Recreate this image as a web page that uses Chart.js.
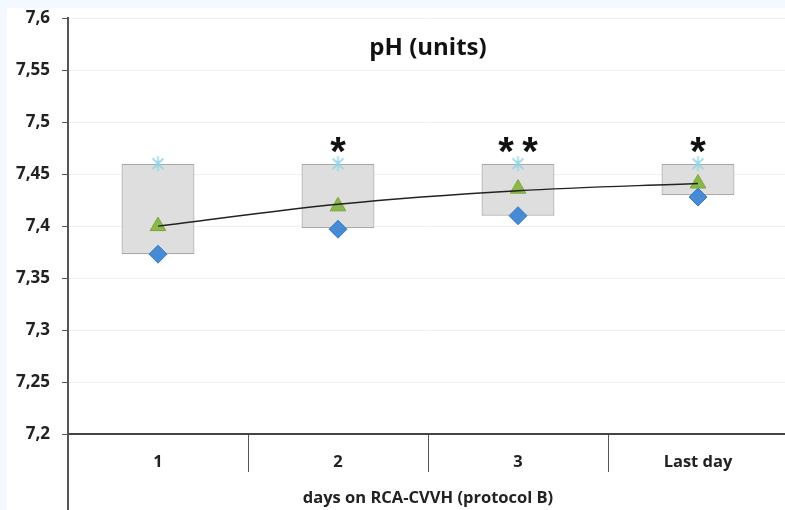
<!DOCTYPE html>
<html>
<head>
<meta charset="utf-8">
<title>pH (units)</title>
<script src="https://cdn.jsdelivr.net/npm/chart.js@4.4.1/dist/chart.umd.min.js"></script>
<style>
  html, body { margin: 0; padding: 0; }
  body { width: 785px; height: 510px; overflow: hidden; background: #f3f9fe; position: relative; }
  #wrap { position: absolute; left: 7px; top: 8px; width: 791px; height: 502px; background: #fff; overflow: hidden; }
  #inner { position: absolute; left: 0; top: -12px; width: 791px; height: 514px; }
</style>
</head>
<body>
<div id="wrap"><div id="inner"><canvas id="phChart"></canvas></div></div>
<script>
// pH per day on RCA-CVVH
const days         = ["1", "2", "3", "Last day"];
const phMax        = [7.46, 7.46, 7.46, 7.46];
const phBoxLow     = [7.373, 7.398, 7.41, 7.43];
const phMean       = [7.40, 7.419, 7.436, 7.441];
const phMin        = [7.373, 7.397, 7.41, 7.428];
const phTrend      = [7.400, 7.421, 7.434, 7.441];
const significance = ["", "*", "**", "*"];
const yTickLabels  = ["7,2", "7,25", "7,3", "7,35", "7,4", "7,45", "7,5", "7,55", "7,6"];

const FONT = "'Open Sans', 'DejaVu Sans', sans-serif";

// 6-arm asterisk marker (vertical + X)
function asteriskMarker(size, color) {
  const c = document.createElement("canvas");
  c.width = size; c.height = size;
  const g = c.getContext("2d");
  const m = size / 2, r = size / 2 - 1;
  const d = r * 0.72;
  g.strokeStyle = color;
  g.lineWidth = 1.5;
  g.beginPath();
  g.moveTo(m, m - r);  g.lineTo(m, m + r);
  g.moveTo(m - d, m - d); g.lineTo(m + d, m + d);
  g.moveTo(m + d, m - d); g.lineTo(m - d, m + d);
  g.stroke();
  return c;
}

const decor = {
  id: "decor",
  afterDraw(chart) {
    const { ctx, chartArea, scales } = chart;
    const x = scales.x, y = scales.y;
    const midX = (chartArea.left + chartArea.right) / 2;
    ctx.save();

    // y axis runs on down through the category band
    ctx.strokeStyle = "#555";
    ctx.lineWidth = 2;
    ctx.beginPath();
    ctx.moveTo(chartArea.left, chartArea.bottom);
    ctx.lineTo(chartArea.left, chart.height);
    ctx.stroke();

    // title
    ctx.fillStyle = "#111";
    ctx.textAlign = "center";
    ctx.textBaseline = "middle";
    ctx.font = "bold 24px " + FONT;
    ctx.fillText("pH (units)", midX, chartArea.top + 30);

    // axis title
    ctx.font = "bold 16.5px " + FONT;
    ctx.fillStyle = "#222";
    ctx.fillText("days on RCA-CVVH (protocol B)", midX, chartArea.bottom + 64);

    // significance marks above each box
    ctx.font = "bold 40px 'Liberation Sans', Arial, sans-serif";
    ctx.fillStyle = "#111";
    ctx.textBaseline = "alphabetic";
    significance.forEach((s, i) => {
      if (!s) return;
      const cx = x.getPixelForValue(i);
      const cy = y.getPixelForValue(phMax[i]) - 22;
      const gap = 24;
      const n = s.length;
      for (let k = 0; k < n; k++) {
        const px = cx + (k - (n - 1) / 2) * gap;
        ctx.fillText("*", px, cy + 23);
      }
    });
    ctx.restore();
  }
};

new Chart(document.getElementById("phChart"), {
  type: "bar",
  data: {
    labels: days,
    datasets: [
      {
        type: "line",
        data: phTrend,
        borderColor: "#222",
        borderWidth: 1.3,
        pointRadius: 0,
        cubicInterpolationMode: "monotone",
        order: 0
      },
      {
        type: "line",
        data: phMean,
        showLine: false,
        pointStyle: "triangle",
        pointRadius: 9,
        backgroundColor: "#8cb84a",
        borderColor: "#7aa63c",
        borderWidth: 1,
        order: 1
      },
      {
        type: "line",
        data: phMin,
        showLine: false,
        pointStyle: "rectRot",
        pointRadius: 9,
        backgroundColor: "#468bd4",
        borderColor: "#3a7cc4",
        borderWidth: 1,
        order: 2
      },
      {
        type: "line",
        data: phMax,
        showLine: false,
        pointStyle: asteriskMarker(17, "#8fd4e4"),
        order: 3
      },
      {
        data: phBoxLow.map((lo, i) => [lo, phMax[i]]),
        backgroundColor: "#dedede",
        borderColor: "#a9a9a9",
        borderWidth: 1.2,
        borderSkipped: false,
        categoryPercentage: 1,
        barPercentage: 0.405,
        order: 4
      }
    ]
  },
  options: {
    responsive: true,
    maintainAspectRatio: false,
    animation: false,
    layout: { padding: 0 },
    plugins: {
      legend: { display: false },
      tooltip: { enabled: false }
    },
    scales: {
      x: {
        offset: true,
        grid: {
          offset: true,
          drawOnChartArea: false,
          tickLength: 38,
          color: "#555",
          lineWidth: 1
        },
        border: { color: "#444", width: 2 },
        ticks: {
          padding: -20,
          color: "#222",
          font: { family: FONT, size: 16.5, weight: "bold" }
        },
        afterFit(scale) { scale.height = 76; }
      },
      y: {
        min: 7.2,
        max: 7.6,
        grid: {
          color: "#f0f0f0",
          tickColor: "#555",
          tickLength: 6,
          lineWidth: 1
        },
        border: { color: "#555", width: 2 },
        ticks: {
          stepSize: 0.05,
          padding: 12,
          color: "#222",
          font: { family: FONT, size: 17, weight: "bold" },
          callback: (v, i) => yTickLabels[i]
        },
        afterFit(scale) { scale.width = 61; }
      }
    }
  },
  plugins: [decor]
});
</script>
</body>
</html>
